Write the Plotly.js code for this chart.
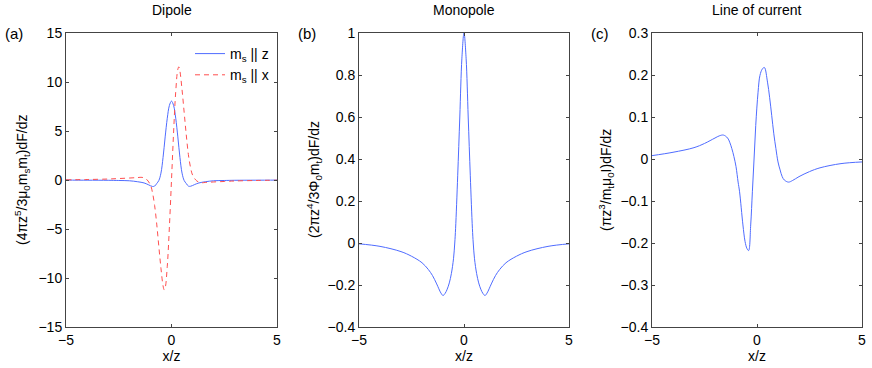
<!DOCTYPE html>
<html>
<head>
<meta charset="utf-8">
<script src="https://cdn.plot.ly/plotly-3.0.1.min.js"></script>
<style>html,body{margin:0;padding:0;background:#fff;}#chart{width:872px;height:368px;}</style>
</head>
<body>
<div id="chart"></div>
<script>
// ---- Panel (a) Dipole ----
const xDipZ = [-5,-4,-3,-2.5,-2,-1.6,-1.3,-1.1,-0.9,-0.8,-0.7,-0.6,-0.5,-0.4,-0.3,-0.2,-0.1,0,0.1,0.2,0.3,0.4,0.5,0.6,0.7,0.8,0.9,1.1,1.3,1.6,2,2.5,3,4,5];
const yDipZ = [-0.01,-0.02,-0.03,-0.05,-0.08,-0.18,-0.3,-0.48,-0.66,-0.62,-0.36,-0.05,0.7,2.3,4.4,6.3,7.6,8.05,7.6,6.3,4.4,2.3,0.7,-0.05,-0.36,-0.62,-0.64,-0.46,-0.3,-0.18,-0.08,-0.05,-0.03,-0.02,-0.01];
const xDipX = [-5,-4,-3,-2.5,-2,-1.6,-1.4,-1.2,-1.0,-0.9,-0.8,-0.7,-0.6,-0.5,-0.4,-0.35,-0.3,-0.2,-0.1,0,0.1,0.2,0.3,0.35,0.4,0.5,0.6,0.7,0.8,0.9,1.0,1.2,1.4,1.6,2,2.5,3,4,5];
const yDipX = [0.02,0.05,0.1,0.15,0.2,0.25,0.27,0.1,-0.5,-1.3,-2.6,-4.5,-6.8,-9.0,-10.8,-11.2,-11.0,-8.8,-4.8,0,4.9,9.0,11.3,11.55,11.1,9.2,6.9,4.6,2.6,1.3,0.5,-0.1,-0.28,-0.25,-0.2,-0.15,-0.1,-0.05,-0.02];
// ---- Panel (b) Monopole ----
const xMono = [-5,-4,-3,-2.5,-2,-1.7,-1.5,-1.3,-1.1,-1.0,-0.9,-0.8,-0.7,-0.6,-0.5,-0.44,-0.4,-0.3,-0.2,-0.1,0,0.1,0.2,0.3,0.4,0.44,0.5,0.6,0.7,0.8,0.9,1.0,1.1,1.3,1.5,1.7,2,2.5,3,4,5];
const yMono = [-0.004,-0.016,-0.041,-0.063,-0.094,-0.126,-0.155,-0.195,-0.238,-0.25,-0.24,-0.22,-0.19,-0.145,-0.075,0,0.07,0.32,0.6,0.88,1.0,0.88,0.6,0.32,0.07,0,-0.075,-0.145,-0.19,-0.22,-0.24,-0.25,-0.238,-0.195,-0.155,-0.126,-0.094,-0.063,-0.041,-0.016,-0.004];
// ---- Panel (c) Line of current ----
const xLine = [-5,-4,-3,-2.5,-2,-1.8,-1.6,-1.4,-1.3,-1.2,-1.1,-1.0,-0.9,-0.83,-0.67,-0.57,-0.48,-0.4,-0.3,-0.22,-0.14,-0.06,0.05,0.14,0.25,0.35,0.5,0.6,0.7,0.8,0.9,1.0,1.1,1.2,1.3,1.5,1.7,2,2.5,3,4,5];
const yLine = [0.008,0.016,0.027,0.037,0.05,0.055,0.057,0.05,0.04,0.025,0.006,-0.018,-0.055,-0.078,-0.157,-0.196,-0.213,-0.218,-0.157,-0.078,0.0,0.08,0.159,0.199,0.214,0.218,0.183,0.147,0.104,0.06,0.025,-0.007,-0.026,-0.042,-0.05,-0.055,-0.051,-0.042,-0.03,-0.021,-0.011,-0.007];

const xTicks = [-5,0,5];
const yTicksA = [-15,-10,-5,0,5,10,15];
const yTicksB = [-0.4,-0.2,0,0.2,0.4,0.6,0.8,1];
const yTicksC = [-0.4,-0.3,-0.2,-0.1,0,0.1,0.2,0.3];
const panelTitles = ['Dipole','Monopole','Line of current'];
const panelLabels = ['(a)','(b)','(c)'];
const yTitles = ['(4πz<sup>5</sup>/3μ<sub>0</sub>m<sub>s</sub>m<sub>t</sub>)dF/dz',
                 '(2πz<sup>4</sup>/3Φ<sub>0</sub>m<sub>t</sub>)dF/dz',
                 '(πz<sup>3</sup>/m<sub>t</sub>μ<sub>0</sub>I)dF/dz'];
const legendNames = ['m<sub>s</sub> || z','m<sub>s</sub> || x'];

const BLUE = '#4f6cff', RED = '#ff4f4f';
const W = 872, H = 368;
const doms = [[66,277],[359,569],[652,862]].map(d => [d[0]/W, d[1]/W]);
const yDom = [(H-327)/H, (H-33)/H];
const FONT = 'Liberation Sans, Arial, sans-serif';

const traces = [
  {x:xDipZ, y:yDipZ, xaxis:'x', yaxis:'y', mode:'lines', name:legendNames[0], line:{color:BLUE,width:1,shape:'spline'}},
  {x:xDipX, y:yDipX, xaxis:'x', yaxis:'y', mode:'lines', name:legendNames[1], line:{color:RED,width:1,dash:'5px,4px',shape:'spline'}},
  {x:xMono, y:yMono, xaxis:'x2', yaxis:'y2', mode:'lines', showlegend:false, line:{color:BLUE,width:1,shape:'spline'}},
  {x:xLine, y:yLine, xaxis:'x3', yaxis:'y3', mode:'lines', showlegend:false, line:{color:BLUE,width:1,shape:'spline'}}
];

function xa(i){
  return {domain:doms[i], range:[-5,5], tickvals:xTicks, ticks:'inside', ticklen:3, tickcolor:'#444',
    showline:true, linecolor:'#444', linewidth:1, mirror:'ticks', showgrid:false, zeroline:false,
    anchor: i===0?'y':'y'+(i+1), tickfont:{size:14,color:'#000',family:FONT},
    title:{text:'x/z', font:{size:14,color:'#000',family:FONT}, standoff:2}};
}
function ya(i, range, tv){
  return {domain:yDom, range:range, tickvals:tv, ticks:'inside', ticklen:3, tickcolor:'#444',
    showline:true, linecolor:'#444', linewidth:1, mirror:'ticks', showgrid:false, zeroline:false,
    anchor: i===0?'x':'x'+(i+1), tickfont:{size:14,color:'#000',family:FONT}};
}

const annotations = [];
const labelX = [3, 296, 589];
const titleYX = [22, 314, 606];
for (let i=0;i<3;i++){
  annotations.push({xref:'paper', yref:'paper', x:(doms[i][0]+doms[i][1])/2, y:(H-10)/H, text:panelTitles[i],
    showarrow:false, xanchor:'center', yanchor:'middle', font:{size:14,color:'#000',family:FONT}});
  annotations.push({xref:'paper', yref:'paper', x:labelX[i]/W, y:(H-33)/H, text:panelLabels[i],
    showarrow:false, xanchor:'left', yanchor:'middle', font:{size:15,color:'#000',family:FONT}});
  annotations.push({xref:'paper', yref:'paper', x:titleYX[i]/W, y:(yDom[0]+yDom[1])/2, text:yTitles[i], textangle:-90,
    showarrow:false, xanchor:'center', yanchor:'middle', font:{size:14,color:'#000',family:FONT}});
}

const layout = {
  width:W, height:H, margin:{l:0,r:0,t:0,b:0}, paper_bgcolor:'#fff', plot_bgcolor:'#fff',
  font:{family:FONT, color:'#000'},
  xaxis:xa(0), xaxis2:xa(1), xaxis3:xa(2),
  yaxis:ya(0,[-15,15],yTicksA), yaxis2:ya(1,[-0.4,1],yTicksB), yaxis3:ya(2,[-0.4,0.3],yTicksC),
  showlegend:true,
  legend:{x:274/W, y:(H-38)/H, xanchor:'right', yanchor:'top', bgcolor:'rgba(0,0,0,0)', borderwidth:0,
    font:{size:14,color:'#000',family:FONT}, tracegroupgap:0, itemwidth:30},
  annotations:annotations
};
Plotly.newPlot('chart', traces, layout, {displayModeBar:false, staticPlot:true});
</script>
</body>
</html>
